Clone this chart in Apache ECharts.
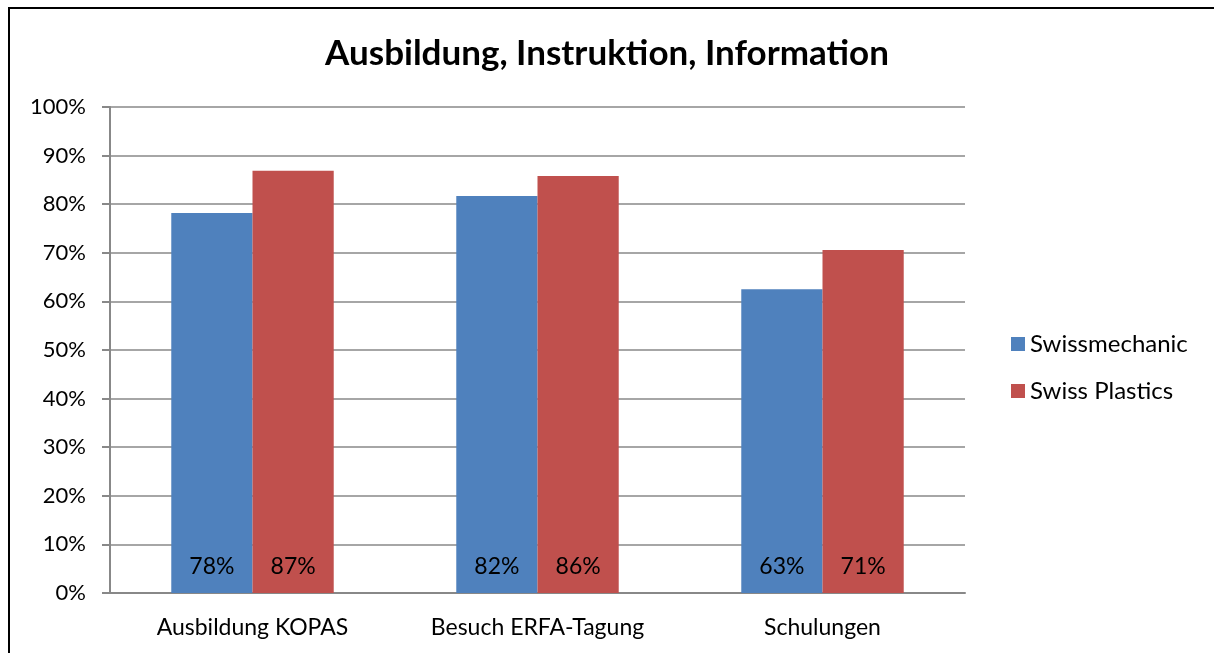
<!DOCTYPE html>
<html>
<head>
<meta charset="utf-8">
<script src="https://cdn.jsdelivr.net/npm/echarts@6/dist/echarts.min.js"></script>
<style>
  html, body { margin: 0; padding: 0; background: #fff; }
  #frame { position: absolute; left: 8px; top: 7px; width: 1206px; height: 646px;
           border-left: 2px solid #000; border-top: 2px solid #000; }
  #chart { position: absolute; left: 0; top: 0; width: 1214px; height: 653px; }
</style>
</head>
<body>
<div id="frame"></div>
<div id="chart"></div>
<script>
const categories = ['Ausbildung KOPAS', 'Besuch ERFA-Tagung', 'Schulungen'];
const swissmechanic = [78.2, 81.7, 62.5];
const swissPlastics = [86.9, 85.8, 70.6];
const yTicks = [0, 10, 20, 30, 40, 50, 60, 70, 80, 90, 100];

const font = 'Lato, "Open Sans", sans-serif';

const barLabel = {
  show: true,
  position: 'insideBottom',
  distance: 15,
  color: '#000',
  fontFamily: font,
  fontSize: 23,
  formatter: p => Math.round(p.value) + '%'
};

const option = {
  animation: false,
  title: {
    text: 'Ausbildung, Instruktion, Information',
    left: 'center',
    top: 31,
    textStyle: { fontFamily: font, fontSize: 35, fontWeight: 'bold', color: '#000' }
  },
  legend: {
    orient: 'vertical',
    left: 1006,
    top: 327,
    itemWidth: 14,
    itemHeight: 14,
    itemGap: 23,
    icon: 'rect',
    textStyle: { fontFamily: font, fontSize: 24, color: '#000' }
  },
  grid: { left: 110, right: 249, top: 107, bottom: 60 },
  xAxis: {
    type: 'category',
    data: categories,
    axisLine: { lineStyle: { color: '#888', width: 2 } },
    axisTick: { show: false },
    axisLabel: { fontFamily: font, fontSize: 23, color: '#000', margin: 23 }
  },
  yAxis: {
    type: 'value',
    min: 0,
    max: 100,
    interval: 10,
    axisLine: { show: true, lineStyle: { color: '#888', width: 2 } },
    axisTick: { show: true, length: 8, lineStyle: { color: '#888', width: 2 } },
    splitLine: { lineStyle: { color: '#888', width: 1.5 } },
    axisLabel: {
      fontFamily: font, fontSize: 22, color: '#000', margin: 24,
      formatter: v => (yTicks.includes(v) ? v + '%' : '')
    }
  },
  series: [
    {
      name: 'Swissmechanic',
      type: 'bar',
      data: swissmechanic,
      barGap: '0%',
      barCategoryGap: '43%',
      itemStyle: { color: '#4F81BD' },
      label: barLabel
    },
    {
      name: 'Swiss Plastics',
      type: 'bar',
      data: swissPlastics,
      itemStyle: { color: '#C0504D' },
      label: barLabel
    }
  ]
};

const myChart = echarts.init(document.getElementById('chart'));
myChart.setOption(option);
</script>
</body>
</html>
